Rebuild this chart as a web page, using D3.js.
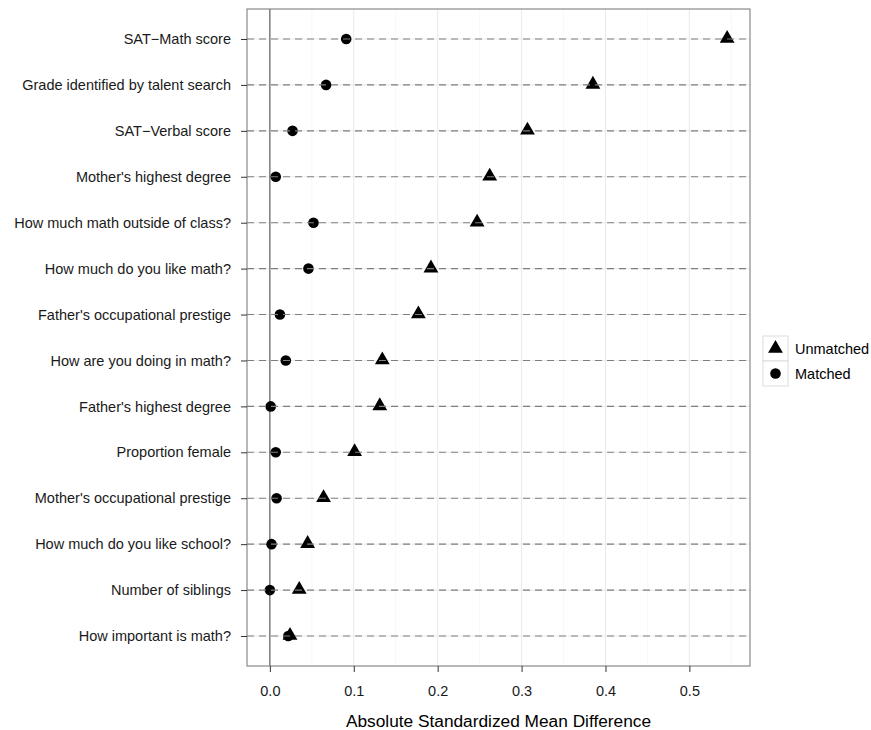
<!DOCTYPE html>
<html>
<head>
<meta charset="utf-8">
<script src="https://cdn.jsdelivr.net/npm/d3@7"></script>
<style>
  body { margin: 0; background: #fff; }
  text { font-family: "Liberation Sans", Arial, sans-serif; }
</style>
</head>
<body>
<div id="chart"></div>
<script>
// covariates, top to bottom
const covariates = [
    "SAT\u2212Math score",
    "Grade identified by talent search",
    "SAT\u2212Verbal score",
    "Mother's highest degree",
    "How much math outside of class?",
    "How much do you like math?",
    "Father's occupational prestige",
    "How are you doing in math?",
    "Father's highest degree",
    "Proportion female",
    "Mother's occupational prestige",
    "How much do you like school?",
    "Number of siblings",
    "How important is math?"
];

// absolute standardized mean differences
const unmatched = [0.545, 0.385, 0.307, 0.262, 0.247, 0.192, 0.177, 0.134, 0.131, 0.101, 0.064, 0.045, 0.035, 0.024];
const matched   = [0.091, 0.067, 0.027, 0.007, 0.052, 0.046, 0.012, 0.019, 0.001, 0.007, 0.008, 0.002, 0.000, 0.022];

const xTicks = [0, 0.1, 0.2, 0.3, 0.4, 0.5];
const xMinor = [0.05, 0.15, 0.25, 0.35, 0.45, 0.55];
const seriesNames = ["Unmatched", "Matched"];

const W = 871, H = 730;
const panel = { left: 247, right: 750, top: 9, bottom: 666 };
const textSize = "14.5px";

const svg = d3.select("#chart").append("svg")
    .attr("width", W)
    .attr("height", H);

const maxVal = d3.max(unmatched.concat(matched));
const pad = maxVal * 0.05;
const x = d3.scaleLinear()
    .domain([-pad, maxVal + pad])
    .range([panel.left, panel.right]);

const y = d3.scalePoint()
    .domain(covariates)
    .range([39, 636]);

const rows = covariates.map((c, i) => ({ name: c, unmatched: unmatched[i], matched: matched[i] }));

// minor and major grid
svg.append("g").selectAll("line.minor")
    .data(xMinor.filter(v => x(v) < panel.right))
    .enter().append("line")
    .attr("class", "minor")
    .attr("x1", d => x(d)).attr("x2", d => x(d))
    .attr("y1", panel.top).attr("y2", panel.bottom)
    .attr("stroke", "#f4f4f4")
    .attr("stroke-width", 0.6);

svg.append("g").selectAll("line.major")
    .data(xTicks)
    .enter().append("line")
    .attr("class", "major")
    .attr("x1", d => x(d)).attr("x2", d => x(d))
    .attr("y1", panel.top).attr("y2", panel.bottom)
    .attr("stroke", "#ebebeb")
    .attr("stroke-width", 1.1);

svg.append("g").selectAll("line.hgrid")
    .data(covariates)
    .enter().append("line")
    .attr("x1", panel.left).attr("x2", panel.right)
    .attr("y1", d => y(d)).attr("y2", d => y(d))
    .attr("stroke", "#ebebeb")
    .attr("stroke-width", 1.1);

// reference line at zero
svg.append("line")
    .attr("x1", x(0)).attr("x2", x(0))
    .attr("y1", panel.top).attr("y2", panel.bottom)
    .attr("stroke", "#555")
    .attr("stroke-width", 1.1);

const triangle = d3.symbol().type(d3.symbolTriangle).size(95);

// points
svg.append("g").selectAll("path.unmatched")
    .data(rows)
    .enter().append("path")
    .attr("class", "unmatched")
    .attr("d", triangle)
    .attr("transform", d => `translate(${x(d.unmatched)},${y(d.name) - 0.5})`)
    .attr("fill", "#000");

svg.append("g").selectAll("circle.matched")
    .data(rows)
    .enter().append("circle")
    .attr("class", "matched")
    .attr("cx", d => x(d.matched))
    .attr("cy", d => y(d.name))
    .attr("r", 5.3)
    .attr("fill", "#000");

// dashed guide lines over the points
svg.append("g").selectAll("line.dash")
    .data(covariates)
    .enter().append("line")
    .attr("class", "dash")
    .attr("x1", panel.left).attr("x2", panel.right)
    .attr("y1", d => y(d)).attr("y2", d => y(d))
    .attr("stroke", "#7f7f7f")
    .attr("stroke-width", 1.1)
    .attr("stroke-dasharray", "7,5");

// panel border
svg.append("rect")
    .attr("x", panel.left).attr("y", panel.top)
    .attr("width", panel.right - panel.left)
    .attr("height", panel.bottom - panel.top)
    .attr("fill", "none")
    .attr("stroke", "#7f7f7f")
    .attr("stroke-width", 1.1);

// y axis
const yAxis = svg.append("g")
    .attr("transform", `translate(${panel.left},0)`)
    .call(d3.axisLeft(y).tickSize(6).tickPadding(10));
yAxis.select(".domain").remove();
yAxis.selectAll(".tick line").attr("stroke", "#333");
yAxis.selectAll(".tick text")
    .attr("fill", "#1a1a1a")
    .style("font-size", textSize);

// x axis
const xAxis = svg.append("g")
    .attr("transform", `translate(0,${panel.bottom})`)
    .call(d3.axisBottom(x).tickValues(xTicks).tickFormat(d3.format(".1f")).tickSize(6).tickPadding(14));
xAxis.select(".domain").remove();
xAxis.selectAll(".tick line").attr("stroke", "#333");
xAxis.selectAll(".tick text")
    .attr("fill", "#1a1a1a")
    .style("font-size", textSize);

svg.append("text")
    .attr("x", (panel.left + panel.right) / 2)
    .attr("y", 727)
    .attr("text-anchor", "middle")
    .style("font-size", "17.3px")
    .attr("fill", "#000")
    .text("Absolute Standardized Mean Difference");

// legend
const legend = svg.append("g")
    .attr("transform", "translate(763,336)");
const keySize = 25;

seriesNames.forEach((name, i) => {
    const g = legend.append("g").attr("transform", `translate(0,${i * keySize})`);
    g.append("rect")
        .attr("width", keySize).attr("height", keySize)
        .attr("fill", "#fff")
        .attr("stroke", "#dcdcdc")
        .attr("stroke-width", 1);
    if (name === "Unmatched") {
        g.append("path")
            .attr("d", triangle)
            .attr("transform", `translate(${keySize / 2},${keySize / 2})`)
            .attr("fill", "#000");
    } else {
        g.append("circle")
            .attr("cx", keySize / 2).attr("cy", keySize / 2)
            .attr("r", 5.3)
            .attr("fill", "#000");
    }
    g.append("text")
        .attr("x", keySize + 7)
        .attr("y", keySize / 2)
        .attr("dy", "0.35em")
        .style("font-size", textSize)
        .attr("fill", "#000")
        .text(name);
});
</script>
</body>
</html>
